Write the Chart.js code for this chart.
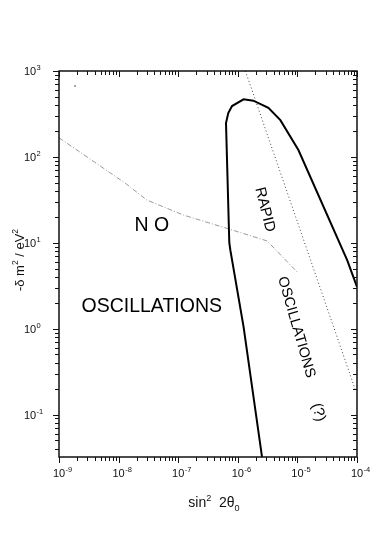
<!DOCTYPE html>
<html>
<head>
<meta charset="utf-8">
<script src="https://cdn.jsdelivr.net/npm/chart.js@4.4.1/dist/chart.umd.min.js"></script>
<style>
  html, body { margin: 0; padding: 0; background: #fff; }
  #wrap { width: 382px; height: 548px; }
</style>
</head>
<body>
<div id="wrap"><canvas id="plot" width="382" height="548"></canvas></div>
<script>
// axis ranges and tick decades (log-log)
const xRange = [1e-9, 1e-4];
const yRange = [0.032, 1000];
const xTickExps = [-9, -8, -7, -6, -5, -4];
const yTickExps = [-1, 0, 1, 2, 3];

// thick solid contour
const contourX = [2.6e-6, 2.55e-6, 1.25e-6, 7.5e-7, 7.2e-7, 6.34e-7, 6.92e-7, 8.0e-7, 1.25e-6, 1.82e-6, 3.26e-6, 5.18e-6, 1.04e-5, 6.84e-5, 1.0e-4];
const contourY = [0.028, 0.032, 1.05, 8.2, 10, 248, 324, 391, 468, 451, 373, 268, 120, 6.27, 3.06];

// thin dash-dot line
const dashDotX = [1e-9, 1.29e-8, 2.98e-8, 1.23e-7, 6.58e-7, 3.10e-6, 1.05e-5];
const dashDotY = [167, 49.5, 31.4, 21.0, 14.7, 10.5, 4.38];

// dotted straight line
const dottedX = [1.34e-6, 9.44e-5];
const dottedY = [1000, 0.191];

// lone dot near the top left
const dotX = [1.86e-9];
const dotY = [668];

const FONT = '"Liberation Sans", Arial, Helvetica, sans-serif';

function pts(xs, ys) {
    return xs.map((x, i) => ({ x: x, y: ys[i] }));
}

// draws "10" with a superscript exponent; anchor is the centre of "10"
function drawPow(ctx, exp, cx, baseY) {
    ctx.font = '11px ' + FONT;
    const w = ctx.measureText('10').width;
    ctx.textAlign = 'left';
    ctx.textBaseline = 'alphabetic';
    ctx.fillText('10', cx - w / 2, baseY);
    ctx.font = '7.5px ' + FONT;
    ctx.fillText(String(exp), cx + w / 2 + 0.5, baseY - 5);
}

// run of text pieces, each {t, sup, sub}
function drawRun(ctx, pieces, size, x, y) {
    let cx = x;
    pieces.forEach(p => {
        const s = (p.sup || p.sub) ? size * 0.65 : size;
        ctx.font = s + 'px ' + FONT;
        const dy = p.sup ? -size * 0.45 : (p.sub ? size * 0.25 : 0);
        ctx.fillText(p.t, cx, y + dy);
        cx += ctx.measureText(p.t).width;
    });
    return cx - x;
}

function runWidth(ctx, pieces, size) {
    let w = 0;
    pieces.forEach(p => {
        const s = (p.sup || p.sub) ? size * 0.65 : size;
        ctx.font = s + 'px ' + FONT;
        w += ctx.measureText(p.t).width;
    });
    return w;
}

const framePlugin = {
    id: 'frame',
    afterDraw(chart) {
        const ctx = chart.ctx;
        const a = chart.chartArea;
        const xs = chart.scales.x, ys = chart.scales.y;
        ctx.save();
        ctx.strokeStyle = '#111';
        ctx.fillStyle = '#111';
        ctx.lineWidth = 1.5;
        ctx.strokeRect(a.left, a.top, a.right - a.left, a.bottom - a.top);

        // ticks: left/bottom point outward, top/right point inward
        ctx.lineWidth = 1;
        ctx.beginPath();
        for (let d = -9; d <= -5; d++) {
            for (let m = 1; m <= 10; m++) {
                const v = m * Math.pow(10, d);
                if (v < xRange[0] * 0.999 || v > xRange[1] * 1.001) continue;
                const px = Math.round(xs.getPixelForValue(v)) + 0.5;
                const len = (m === 1 || m === 10) ? 6 : 4;
                ctx.moveTo(px, a.bottom); ctx.lineTo(px, a.bottom + len);
                ctx.moveTo(px, a.top); ctx.lineTo(px, a.top + len);
            }
        }
        for (let d = -2; d <= 2; d++) {
            for (let m = 1; m <= 10; m++) {
                const v = m * Math.pow(10, d);
                if (v < yRange[0] * 0.999 || v > yRange[1] * 1.001) continue;
                const py = Math.round(ys.getPixelForValue(v)) + 0.5;
                const len = (m === 1 || m === 10) ? 6 : 4;
                ctx.moveTo(a.left, py); ctx.lineTo(a.left - len, py);
                ctx.moveTo(a.right, py); ctx.lineTo(a.right - len, py);
            }
        }
        ctx.stroke();

        // tick labels
        xTickExps.forEach(e => {
            drawPow(ctx, e, xs.getPixelForValue(Math.pow(10, e)), a.bottom + 20);
        });
        yTickExps.forEach(e => {
            const py = ys.getPixelForValue(Math.pow(10, e));
            drawPow(ctx, e, 30, py + 4);
        });

        // axis titles
        ctx.textAlign = 'left';
        ctx.textBaseline = 'alphabetic';
        const xTitle = [{ t: 'sin' }, { t: '2', sup: true }, { t: '  2θ' }, { t: '0', sub: true }];
        const xw = runWidth(ctx, xTitle, 14);
        drawRun(ctx, xTitle, 14, 214 - xw / 2, 507);

        const yTitle = [{ t: '-δ m' }, { t: '2', sup: true }, { t: ' / eV' }, { t: '2', sup: true }];
        ctx.save();
        ctx.translate(24, 260);
        ctx.rotate(-Math.PI / 2);
        const yw = runWidth(ctx, yTitle, 13);
        drawRun(ctx, yTitle, 13, -yw / 2, 0);
        ctx.restore();

        // region labels, anchored in data coordinates
        const notes = [
            { t: 'N O', x: 3.6e-8, y: 16.0, size: 19.5, rot: 0 },
            { t: 'OSCILLATIONS', x: 3.6e-8, y: 1.8, size: 19.5, rot: 0 },
            { t: 'RAPID', x: 2.84e-6, y: 24.3, size: 15, rot: 76 },
            { t: 'OSCILLATIONS', x: 9.6e-6, y: 1.04, size: 14.5, rot: 74 },
            { t: '(?)', x: 2.25e-5, y: 0.106, size: 15, rot: 75 }
        ];
        ctx.fillStyle = '#000';
        notes.forEach(n => {
            ctx.save();
            ctx.translate(xs.getPixelForValue(n.x), ys.getPixelForValue(n.y));
            ctx.rotate(n.rot * Math.PI / 180);
            ctx.font = n.size + 'px ' + FONT;
            ctx.textAlign = 'center';
            ctx.textBaseline = 'middle';
            ctx.fillText(n.t, 0, 0);
            ctx.restore();
        });
        ctx.restore();
    }
};

new Chart(document.getElementById('plot'), {
    type: 'scatter',
    data: {
        datasets: [
            {
                data: pts(contourX, contourY),
                showLine: true,
                borderColor: '#000',
                borderWidth: 2,
                pointRadius: 0,
                tension: 0
            },
            {
                data: pts(dashDotX, dashDotY),
                showLine: true,
                borderColor: '#9a9a9a',
                borderWidth: 1,
                borderDash: [5, 2, 1, 2],
                pointRadius: 0
            },
            {
                data: pts(dottedX, dottedY),
                showLine: true,
                borderColor: '#444',
                borderWidth: 1,
                borderDash: [1, 2.5],
                pointRadius: 0
            },
            {
                data: pts(dotX, dotY),
                showLine: false,
                pointRadius: 0.8,
                pointBackgroundColor: '#333',
                pointBorderWidth: 0
            }
        ]
    },
    options: {
        responsive: false,
        animation: false,
        devicePixelRatio: 1,
        layout: { padding: { left: 59, right: 25, top: 71, bottom: 91 } },
        scales: {
            x: { type: 'logarithmic', min: xRange[0], max: xRange[1], display: false },
            y: { type: 'logarithmic', min: yRange[0], max: yRange[1], display: false }
        },
        plugins: {
            legend: { display: false },
            tooltip: { enabled: false }
        }
    },
    plugins: [framePlugin]
});
</script>
</body>
</html>
